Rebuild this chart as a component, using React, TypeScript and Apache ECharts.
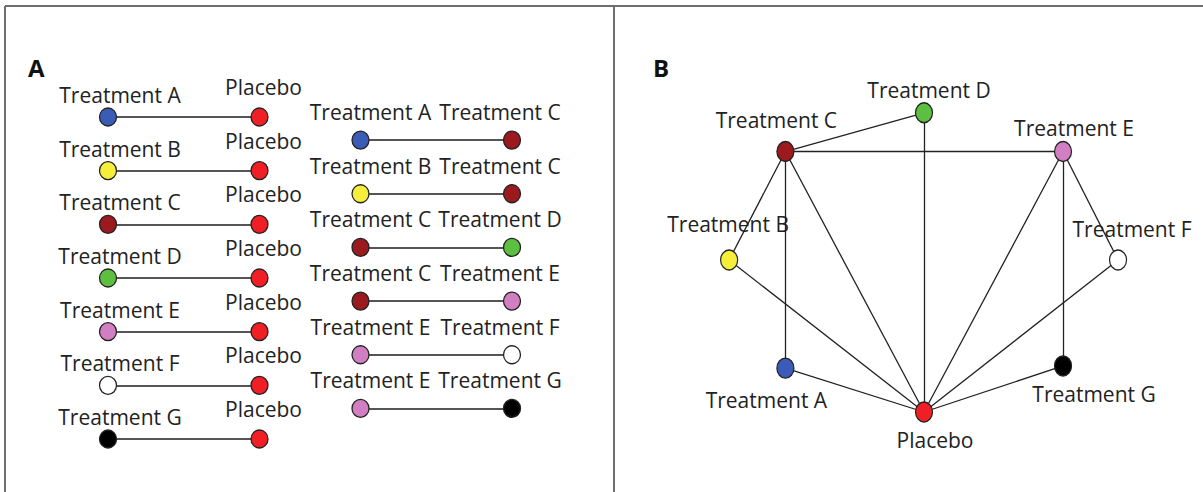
import React, { useEffect, useRef } from "react";
import * as echarts from "echarts";

// ---- Panel A: pairwise comparisons ----
const placeboComparisons: [string, string][] = [
  ["Treatment A", "Placebo"],
  ["Treatment B", "Placebo"],
  ["Treatment C", "Placebo"],
  ["Treatment D", "Placebo"],
  ["Treatment E", "Placebo"],
  ["Treatment F", "Placebo"],
  ["Treatment G", "Placebo"],
];
const headToHeadComparisons: [string, string][] = [
  ["Treatment A", "Treatment C"],
  ["Treatment B", "Treatment C"],
  ["Treatment C", "Treatment D"],
  ["Treatment C", "Treatment E"],
  ["Treatment E", "Treatment F"],
  ["Treatment E", "Treatment G"],
];

// ---- Panel B: network ----
const networkNodes = ["Treatment A", "Treatment B", "Treatment C", "Treatment D", "Treatment E", "Treatment F", "Treatment G", "Placebo"];
const networkX = [1.7, 0.36, 1.7, 5.0, 8.31, 9.62, 8.31, 5.0];
const networkY = [1.62, 5.0, 8.39, 9.6, 8.39, 5.0, 1.69, 0.25];
const networkEdges: [string, string][] = [
  ["Treatment C", "Treatment D"],
  ["Treatment C", "Treatment E"],
  ["Treatment C", "Treatment B"],
  ["Treatment C", "Treatment A"],
  ["Treatment C", "Placebo"],
  ["Treatment D", "Placebo"],
  ["Treatment E", "Placebo"],
  ["Treatment E", "Treatment F"],
  ["Treatment E", "Treatment G"],
  ["Treatment B", "Placebo"],
  ["Treatment A", "Placebo"],
  ["Treatment F", "Placebo"],
  ["Treatment G", "Placebo"],
];

// ---- styles ----
const nodeColors: Record<string, string> = {
  "Treatment A": "#3a5cb6",
  "Treatment B": "#f5ef3c",
  "Treatment C": "#9a1a1e",
  "Treatment D": "#5dbf3f",
  "Treatment E": "#d27ec2",
  "Treatment F": "#ffffff",
  "Treatment G": "#000000",
  Placebo: "#f01f25",
};
const colX = [0, 3, 5, 8];
const rightColShift = 0.43;
const labelOffsetsA = {
  leftStart: [12, -22],
  leftEnd: [4, -30],
  rightStart: [10, -28],
  rightEnd: [-12, -28],
};
const labelOffsetsB: Record<string, number[]> = {
  "Treatment A": [-19, 32],
  "Treatment B": [-1, -36],
  "Treatment C": [-9, -32],
  "Treatment D": [5, -23],
  "Treatment E": [11, -24],
  "Treatment F": [14, -31],
  "Treatment G": [31, 28],
  Placebo: [11, 28],
};
const FONT = "'Open Sans', 'Noto Sans', sans-serif";
const ELLIPSE = "path://M10 0A10 10 0 1 1 10 20A10 10 0 1 1 10 0Z";

function node(id: string, label: string, x: number, y: number, offset: number[]) {
  return {
    id,
    name: id,
    value: [x, y],
    itemStyle: { color: nodeColors[label] },
    label: { formatter: label, offset },
  };
}

export default function App() {
  const ref = useRef<HTMLDivElement>(null);
  useEffect(() => {
    document.body.style.margin = "0";
    if (!ref.current) return;
    const chart = echarts.init(ref.current, null, { renderer: "svg" });

    const nodesA: any[] = [];
    const linksA: any[] = [];
    placeboComparisons.forEach(([s, t], i) => {
      const a = nodesA.length;
      nodesA.push(node(`L${i}s`, s, colX[0], i, labelOffsetsA.leftStart));
      nodesA.push(node(`L${i}t`, t, colX[1], i, labelOffsetsA.leftEnd));
      linksA.push({ source: a, target: a + 1 });
    });
    headToHeadComparisons.forEach(([s, t], i) => {
      const a = nodesA.length;
      nodesA.push(node(`R${i}s`, s, colX[2], i + rightColShift, labelOffsetsA.rightStart));
      nodesA.push(node(`R${i}t`, t, colX[3], i + rightColShift, labelOffsetsA.rightEnd));
      linksA.push({ source: a, target: a + 1 });
    });

    const nodesB = networkNodes.map((n, i) => node(`N${i}`, n, networkX[i], networkY[i], labelOffsetsB[n]));
    const linksB = networkEdges.map(([s, t]) => ({ source: networkNodes.indexOf(s), target: networkNodes.indexOf(t) }));

    const labelStyle = {
      show: true,
      position: "inside",
      fontFamily: FONT,
      fontSize: 21,
      color: "#222",
    };

    const frameStyle = { stroke: "#6e6e6e", lineWidth: 2 };
    const panelTitle = { fontFamily: FONT, fontSize: 24, fontWeight: "bold", color: "#111" };

    chart.setOption({
      animation: false,
      backgroundColor: "#ffffff",
      title: [
        { text: "A", left: 28, top: 55, padding: 0, textStyle: panelTitle },
        { text: "B", left: 653, top: 55, padding: 0, textStyle: panelTitle },
      ],
      grid: [
        { left: 108, top: 117, width: 404, height: 322 },
        { left: 714, top: 100, width: 420, height: 320 },
      ],
      xAxis: [
        { type: "value", gridIndex: 0, min: 0, max: 8, show: false },
        { type: "value", gridIndex: 1, min: 0, max: 10, show: false },
      ],
      yAxis: [
        { type: "value", gridIndex: 0, min: 0, max: 6, inverse: true, show: false },
        { type: "value", gridIndex: 1, min: 0, max: 10, show: false },
      ],
      graphic: [
        { type: "line", shape: { x1: 5, y1: 6, x2: 1203, y2: 6 }, style: frameStyle },
        { type: "line", shape: { x1: 5, y1: 6, x2: 5, y2: 492 }, style: frameStyle },
        { type: "line", shape: { x1: 614, y1: 6, x2: 614, y2: 492 }, style: frameStyle },
      ],
      series: [
        {
          type: "graph",
          coordinateSystem: "cartesian2d",
          xAxisIndex: 0,
          yAxisIndex: 0,
          symbol: ELLIPSE,
          symbolSize: [17, 18],
          data: nodesA,
          links: linksA,
          lineStyle: { color: "#555", width: 2, opacity: 1, curveness: 0 },
          itemStyle: { borderColor: "#222", borderWidth: 1.3 },
          label: labelStyle,
          emphasis: { disabled: true },
          silent: true,
        },
        {
          type: "graph",
          coordinateSystem: "cartesian2d",
          xAxisIndex: 1,
          yAxisIndex: 1,
          symbol: ELLIPSE,
          symbolSize: [17, 20],
          data: nodesB,
          links: linksB,
          lineStyle: { color: "#222", width: 1.3, opacity: 1, curveness: 0 },
          itemStyle: { borderColor: "#222", borderWidth: 1.3 },
          label: labelStyle,
          emphasis: { disabled: true },
          silent: true,
        },
      ],
    });
    return () => chart.dispose();
  }, []);
  return <div ref={ref} style={{ width: 1203, height: 492 }} />;
}
